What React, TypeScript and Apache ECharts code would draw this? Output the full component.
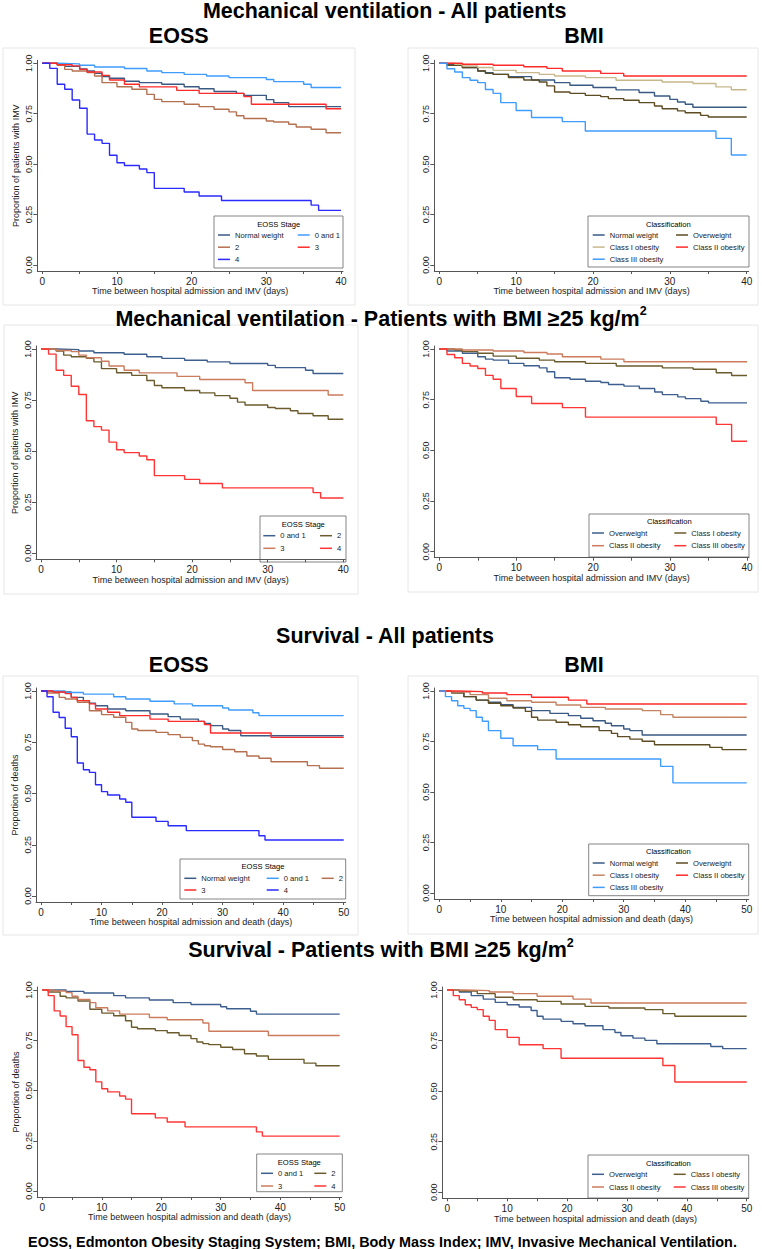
import { useEffect, useRef } from "react";
import * as echarts from "echarts";

const FONT = "'Liberation Sans', Arial, Helvetica, sans-serif";

// ---------- axis ticks ----------
const imvDayLabels = [0, 10, 20, 30, 40];
const imvDayTicks = [0, 5, 10, 15, 20, 25, 30, 35, 40];
const survDayLabels = [0, 10, 20, 30, 40, 50];
const survDayTicks = [0, 5, 10, 15, 20, 25, 30, 35, 40, 45, 50];
const proportionTicks = [0, 0.25, 0.5, 0.75, 1];

// ---------- IMV by EOSS stage: [day, proportion] ----------
const imvNormalWeight = [[0,1],[2,0.993],[3,0.985],[5,0.972],[6,0.962],[7,0.95],[8,0.934],[9,0.926],[11,0.911],[13,0.904],[16,0.896],[19,0.884],[21,0.874],[23,0.86],[26,0.851],[27,0.841],[30,0.82],[31,0.805],[33,0.785],[40,0.785]];
const imvStage01 = [[0,1],[2,0.997],[5,0.99],[7,0.982],[11,0.974],[14,0.962],[16,0.954],[19,0.945],[22,0.937],[25,0.929],[30,0.92],[31,0.909],[35,0.896],[36,0.88],[40,0.88]];
const imvStage2 = [[0,1],[2,0.99],[3,0.97],[4,0.962],[6,0.954],[7,0.937],[8,0.904],[10,0.884],[12,0.871],[14,0.846],[15,0.821],[16,0.81],[19,0.797],[21,0.785],[23,0.772],[25,0.759],[26,0.74],[27,0.726],[30,0.714],[31,0.709],[33,0.698],[34,0.684],[36,0.673],[38,0.656],[40,0.656]];
const imvStage3 = [[0,1],[2,0.993],[4,0.987],[5,0.97],[6,0.957],[8,0.94],[9,0.917],[11,0.896],[13,0.883],[18,0.866],[21,0.851],[27,0.835],[28,0.797],[38,0.775],[40,0.775]];
const imvStage4 = [[0,1],[1,0.975],[2,0.896],[3,0.871],[4,0.818],[5,0.777],[6,0.649],[7,0.62],[8,0.603],[9,0.544],[10,0.507],[11,0.493],[13,0.476],[14,0.458],[15,0.38],[19,0.362],[21,0.342],[24,0.32],[36,0.297],[37,0.271],[40,0.271]];

// ---------- IMV by BMI class ----------
const imvBmiNormal = [[0,1],[1,0.995],[3,0.979],[5,0.962],[6,0.954],[7,0.945],[9,0.934],[12,0.917],[15,0.904],[17,0.891],[20,0.88],[23,0.868],[26,0.855],[28,0.838],[30,0.821],[31,0.808],[32,0.797],[33,0.782],[40,0.782]];
const imvOverweight = [[0,1],[1,0.99],[3,0.979],[5,0.962],[6,0.95],[7,0.945],[9,0.929],[11,0.917],[13,0.907],[14,0.888],[15,0.858],[17,0.851],[19,0.841],[21,0.835],[22,0.825],[24,0.817],[26,0.805],[28,0.788],[29,0.775],[31,0.764],[32,0.755],[34,0.742],[35,0.734],[40,0.734]];
const imvObesity1 = [[0,1],[2,0.995],[3,0.987],[5,0.979],[7,0.965],[10,0.954],[13,0.945],[15,0.937],[19,0.929],[23,0.916],[29,0.907],[33,0.9],[36,0.883],[38,0.869],[40,0.869]];
const imvObesity2 = [[0,1],[3,0.995],[7,0.99],[11,0.983],[14,0.975],[16,0.962],[21,0.95],[24,0.937],[40,0.937]];
const imvObesity3 = [[0,1],[1,0.973],[2,0.957],[3,0.929],[4,0.916],[5,0.904],[6,0.87],[7,0.851],[8,0.805],[10,0.766],[12,0.731],[16,0.711],[19,0.664],[36,0.628],[38,0.545],[40,0.545]];

// ---------- Survival by EOSS stage ----------
const survNormalWeight = [[0,1],[2,0.995],[5,0.969],[7,0.953],[8,0.941],[9,0.928],[11,0.912],[14,0.904],[18,0.888],[21,0.875],[23,0.863],[26,0.852],[27,0.842],[28,0.831],[30,0.815],[31,0.807],[33,0.782],[50,0.782]];
const survStage01 = [[0,1],[4,0.993],[7,0.985],[12,0.972],[14,0.961],[18,0.95],[22,0.937],[25,0.928],[30,0.917],[31,0.907],[35,0.894],[36,0.88],[50,0.88]];
const survStage2 = [[0,1],[1,0.99],[3,0.969],[4,0.961],[6,0.945],[8,0.904],[10,0.885],[12,0.872],[14,0.847],[15,0.815],[16,0.807],[19,0.798],[21,0.787],[23,0.774],[25,0.758],[26,0.741],[27,0.733],[28,0.728],[30,0.715],[32,0.704],[34,0.683],[36,0.672],[38,0.655],[44,0.636],[46,0.623],[50,0.623]];
const survStage3 = [[0,1],[2,0.995],[4,0.987],[5,0.969],[6,0.953],[8,0.937],[9,0.912],[11,0.896],[13,0.88],[18,0.863],[21,0.852],[27,0.836],[28,0.795],[38,0.774],[50,0.774]];
const survStage4 = [[0,1],[1,0.972],[2,0.896],[3,0.871],[4,0.818],[5,0.777],[6,0.649],[7,0.616],[8,0.603],[9,0.543],[10,0.509],[11,0.493],[13,0.473],[14,0.457],[15,0.384],[19,0.364],[21,0.343],[24,0.319],[36,0.294],[37,0.273],[50,0.273]];

// ---------- Survival by BMI class ----------
const survBmiNormal = [[0,1],[2,0.993],[4,0.972],[6,0.955],[8,0.944],[10,0.932],[12,0.919],[15,0.903],[18,0.889],[21,0.878],[23,0.865],[25,0.853],[27,0.84],[28,0.828],[30,0.812],[31,0.804],[33,0.782],[50,0.782]];
const survOverweight = [[0,1],[2,0.99],[4,0.972],[6,0.955],[8,0.939],[10,0.927],[12,0.916],[14,0.899],[15,0.87],[16,0.856],[19,0.845],[21,0.833],[23,0.823],[26,0.804],[28,0.79],[29,0.774],[31,0.762],[33,0.751],[35,0.734],[44,0.721],[46,0.71],[50,0.71]];
const survObesity1 = [[0,1],[2,0.995],[5,0.982],[8,0.964],[11,0.952],[15,0.944],[19,0.931],[23,0.919],[27,0.911],[33,0.903],[36,0.883],[38,0.87],[50,0.87]];
const survObesity2 = [[0,1],[3,0.997],[7,0.99],[11,0.982],[15,0.969],[21,0.955],[24,0.936],[50,0.936]];
const survObesity3 = [[0,1],[1,0.972],[2,0.952],[3,0.927],[4,0.914],[5,0.903],[6,0.87],[7,0.85],[8,0.804],[10,0.766],[12,0.729],[16,0.71],[19,0.663],[36,0.627],[38,0.545],[50,0.545]];

// ---------- colours ----------
const NAVY = "#3a5a84";
const SKY = "#3f9cff";
const BROWN = "#b5704f";
const RED = "#ff2a2a";
const BLUE = "#2a2aff";
const DARKOLIVE = "#5e4c22";
const TAN = "#c7b88c";
const CLAY = "#c48463";
const BLUE2 = "#3c5f8e";
const OLIVE2 = "#6c5b2d";
const SALMON2 = "#cc7c5c";
const RED2 = "#ff3535";

const IMV_X = "Time between hospital admission and IMV (days)";
const DEATH_X = "Time between hospital admission and death (days)";
const IMV_Y = "Proportion of patients with IMV";
const DEATH_Y = "Proportion of deaths";

type Curve = { name: string; data: number[][]; color: string };
type Panel = {
  geo: { x0: number; x1: number; y1: number; y0: number };
  maxDay: number;
  xName: string;
  yName: string;
  labels: number[];
  ticks: number[];
  curves: Curve[];
  frame: number[] | null;
  legend: { box: number[]; title: string; tx: number; ty: number; cols: { left: number; names: string[] }[]; row0: number; rowH: number };
};

const panels: Panel[] = [
  {
    geo: { x0: 42.3, x1: 341.0, y1: 63.3, y0: 265.0 }, maxDay: 40, xName: IMV_X, yName: IMV_Y,
    labels: imvDayLabels, ticks: imvDayTicks, frame: [3, 48, 352, 257],
    curves: [
      { name: "Normal weight", data: imvNormalWeight, color: NAVY },
      { name: "0 and 1", data: imvStage01, color: SKY },
      { name: "2", data: imvStage2, color: BROWN },
      { name: "3", data: imvStage3, color: RED },
      { name: "4", data: imvStage4, color: BLUE },
    ],
    legend: { box: [214, 216, 129, 52], title: "EOSS Stage", tx: 278.7, ty: 224.3, row0: 235, rowH: 12.2,
      cols: [{ left: 218, names: ["Normal weight", "2", "4"] }, { left: 297.7, names: ["0 and 1", "3"] }] },
  },
  {
    geo: { x0: 439.3, x1: 746.7, y1: 63.3, y0: 265.0 }, maxDay: 40, xName: IMV_X, yName: "",
    labels: imvDayLabels, ticks: imvDayTicks, frame: [408, 48, 350, 257],
    curves: [
      { name: "Normal weight", data: imvBmiNormal, color: NAVY },
      { name: "Overweight", data: imvOverweight, color: DARKOLIVE },
      { name: "Class I obesity", data: imvObesity1, color: TAN },
      { name: "Class II obesity", data: imvObesity2, color: RED },
      { name: "Class III obesity", data: imvObesity3, color: SKY },
    ],
    legend: { box: [588, 216, 161, 51], title: "Classification", tx: 668.3, ty: 224, row0: 235, rowH: 12.1,
      cols: [{ left: 592.7, names: ["Normal weight", "Class I obesity", "Class III obesity"] }, { left: 676, names: ["Overweight", "Class II obesity"] }] },
  },
  {
    geo: { x0: 41.0, x1: 343.3, y1: 349.0, y0: 553.3 }, maxDay: 40, xName: IMV_X, yName: IMV_Y,
    labels: imvDayLabels, ticks: imvDayTicks, frame: [4, 325, 354, 269],
    curves: [
      { name: "0 and 1", data: imvStage01, color: BLUE2 },
      { name: "2", data: imvStage2, color: OLIVE2 },
      { name: "3", data: imvStage3, color: SALMON2 },
      { name: "4", data: imvStage4, color: RED2 },
    ],
    legend: { box: [260, 516, 86, 46], title: "EOSS Stage", tx: 303.3, ty: 524.3, row0: 535.7, rowH: 12.6,
      cols: [{ left: 263.3, names: ["0 and 1", "3"] }, { left: 320, names: ["2", "4"] }] },
  },
  {
    geo: { x0: 439.3, x1: 747.0, y1: 349.0, y0: 551.7 }, maxDay: 40, xName: IMV_X, yName: "",
    labels: imvDayLabels, ticks: imvDayTicks, frame: [408, 325, 350, 267],
    curves: [
      { name: "Overweight", data: imvOverweight, color: BLUE2 },
      { name: "Class I obesity", data: imvObesity1, color: OLIVE2 },
      { name: "Class II obesity", data: imvObesity2, color: SALMON2 },
      { name: "Class III obesity", data: imvObesity3, color: RED2 },
    ],
    legend: { box: [589, 514, 160, 43], title: "Classification", tx: 669.3, ty: 521.7, row0: 533, rowH: 12.7,
      cols: [{ left: 592, names: ["Overweight", "Class II obesity"] }, { left: 674.3, names: ["Class I obesity", "Class III obesity"] }] },
  },
  {
    geo: { x0: 41.0, x1: 343.7, y1: 691.0, y0: 896.0 }, maxDay: 50, xName: DEATH_X, yName: DEATH_Y,
    labels: survDayLabels, ticks: survDayTicks, frame: [3, 676, 355, 259],
    curves: [
      { name: "Normal weight", data: survNormalWeight, color: NAVY },
      { name: "0 and 1", data: survStage01, color: SKY },
      { name: "2", data: survStage2, color: BROWN },
      { name: "3", data: survStage3, color: RED },
      { name: "4", data: survStage4, color: BLUE },
    ],
    legend: { box: [180, 859, 165.7, 40], title: "EOSS Stage", tx: 263, ty: 866.7, row0: 878.3, rowH: 11.7,
      cols: [{ left: 184.3, names: ["Normal weight", "3"] }, { left: 266.7, names: ["0 and 1", "4"] }, { left: 321.7, names: ["2"] }] },
  },
  {
    geo: { x0: 439.3, x1: 746.7, y1: 691.0, y0: 893.0 }, maxDay: 50, xName: DEATH_X, yName: "",
    labels: survDayLabels, ticks: survDayTicks, frame: [408, 676, 350, 258],
    curves: [
      { name: "Normal weight", data: survBmiNormal, color: NAVY },
      { name: "Overweight", data: survOverweight, color: DARKOLIVE },
      { name: "Class I obesity", data: survObesity1, color: CLAY },
      { name: "Class II obesity", data: survObesity2, color: RED },
      { name: "Class III obesity", data: survObesity3, color: SKY },
    ],
    legend: { box: [588.7, 844, 160, 51.7], title: "Classification", tx: 668.3, ty: 851.7, row0: 863, rowH: 12.2,
      cols: [{ left: 592.7, names: ["Normal weight", "Class I obesity", "Class III obesity"] }, { left: 676, names: ["Overweight", "Class II obesity"] }] },
  },
  {
    geo: { x0: 42.3, x1: 339.7, y1: 990.0, y0: 1191.0 }, maxDay: 50, xName: DEATH_X, yName: DEATH_Y,
    labels: survDayLabels, ticks: survDayTicks, frame: null,
    curves: [
      { name: "0 and 1", data: survStage01, color: BLUE2 },
      { name: "2", data: survStage2, color: OLIVE2 },
      { name: "3", data: survStage3, color: SALMON2 },
      { name: "4", data: survStage4, color: RED2 },
    ],
    legend: { box: [256.7, 1154, 85.6, 37.7], title: "EOSS Stage", tx: 299.3, ty: 1162.7, row0: 1173.3, rowH: 12.7,
      cols: [{ left: 261, names: ["0 and 1", "3"] }, { left: 314.3, names: ["2", "4"] }] },
  },
  {
    geo: { x0: 447.3, x1: 746.7, y1: 990.0, y0: 1192.3 }, maxDay: 50, xName: DEATH_X, yName: "",
    labels: survDayLabels, ticks: survDayTicks, frame: null,
    curves: [
      { name: "Overweight", data: survOverweight, color: BLUE2 },
      { name: "Class I obesity", data: survObesity1, color: OLIVE2 },
      { name: "Class II obesity", data: survObesity2, color: SALMON2 },
      { name: "Class III obesity", data: survObesity3, color: RED2 },
    ],
    legend: { box: [588, 1155, 160.7, 43], title: "Classification", tx: 668.3, ty: 1163.3, row0: 1174.3, rowH: 12.7,
      cols: [{ left: 592, names: ["Overweight", "Class II obesity"] }, { left: 673.7, names: ["Class I obesity", "Class III obesity"] }] },
  },
];

const PAD_L = 5, PAD_R = 2, PAD_B = 6, PAD_T = 3;

function plainText(text: string, x: number, y: number, size: number, bold = true) {
  return {
    type: "text", x, y, silent: true,
    style: {
      text, fill: "#000", fontSize: size, fontWeight: bold ? "bold" : "normal", fontFamily: FONT,
      align: "center", verticalAlign: "middle", textAlign: "center", textVerticalAlign: "middle",
    },
  };
}

function supText(main: string, x: number, y: number) {
  return {
    type: "text", x, y, silent: true,
    style: {
      text: `{a|${main}}{s|2}`,
      align: "center", verticalAlign: "middle", textAlign: "center", textVerticalAlign: "middle",
      rich: {
        a: { fontSize: 21.5, fontWeight: "bold", fontFamily: FONT, lineHeight: 28, fill: "#000" },
        s: { fontSize: 12.5, fontWeight: "bold", fontFamily: FONT, lineHeight: 13, verticalAlign: "top", fill: "#000" },
      },
    },
  };
}

function buildOption() {
  const grid: any[] = [], xAxis: any[] = [], yAxis: any[] = [], series: any[] = [], legend: any[] = [], elements: any[] = [];

  panels.forEach((p, i) => {
    const g = p.geo;
    const pxDay = (g.x1 - g.x0) / p.maxDay;
    const pxUnit = g.y0 - g.y1;
    grid.push({
      left: g.x0 - PAD_L, top: g.y1 - PAD_T,
      width: g.x1 + PAD_R - (g.x0 - PAD_L), height: g.y0 + PAD_B - (g.y1 - PAD_T),
      containLabel: false, outerBoundsMode: "none", show: false,
    });
    xAxis.push({
      type: "value", gridIndex: i, min: -PAD_L / pxDay, max: p.maxDay + PAD_R / pxDay,
      axisLine: { show: true, onZero: false, lineStyle: { color: "#555", width: 1 } },
      axisTick: { show: true, length: 3, customValues: p.ticks, lineStyle: { color: "#555" } },
      axisLabel: { show: true, customValues: p.labels, margin: 5, fontSize: 10, color: "#222", fontFamily: FONT },
      splitLine: { show: false }, minorTick: { show: false },
      name: p.xName, nameLocation: "middle", nameGap: 14.5,
      nameTextStyle: { fontSize: 9, color: "#222", fontFamily: FONT },
    });
    yAxis.push({
      type: "value", gridIndex: i, min: -PAD_B / pxUnit, max: 1 + PAD_T / pxUnit,
      axisLine: { show: true, onZero: false, lineStyle: { color: "#555", width: 1 } },
      axisTick: { show: true, length: 4, customValues: proportionTicks, lineStyle: { color: "#555" } },
      axisLabel: {
        show: true, customValues: proportionTicks, rotate: 90, margin: 4, fontSize: 9, color: "#222", fontFamily: FONT,
        formatter: (v: number) => v.toFixed(2),
      },
      splitLine: { show: false },
      name: p.yName, nameLocation: "middle", nameGap: 17,
      nameTextStyle: { fontSize: 9, color: "#222", fontFamily: FONT },
    });
    p.curves.forEach((c) => {
      series.push({
        type: "line", name: c.name, xAxisIndex: i, yAxisIndex: i, data: c.data, step: "end",
        symbol: "none", showSymbol: false, silent: true, color: c.color,
        lineStyle: { color: c.color, width: 1.4 }, emphasis: { disabled: true },
      });
    });
    const L = p.legend;
    L.cols.forEach((col) => {
      legend.push({
        show: true, orient: "vertical", left: col.left, top: L.row0 - L.rowH / 2,
        padding: 0, itemGap: 0, itemWidth: 12, itemHeight: 1.5, icon: "rect", selectedMode: false,
        textStyle: { fontSize: 7.6, lineHeight: L.rowH, color: "#222", fontFamily: FONT },
        data: col.names.map((n) => {
          const c = p.curves.find((cc) => cc.name === n)!;
          return { name: n, icon: "rect", itemStyle: { color: c.color, borderColor: c.color, borderWidth: 0 } };
        }),
      });
    });
    if (p.frame) {
      elements.push({
        type: "rect", silent: true, z: -1,
        shape: { x: p.frame[0], y: p.frame[1], width: p.frame[2], height: p.frame[3] },
        style: { fill: "none", stroke: "#e6e6e6", lineWidth: 1 },
      });
    }
    elements.push({
      type: "rect", silent: true,
      shape: { x: L.box[0], y: L.box[1], width: L.box[2], height: L.box[3] },
      style: { fill: "#fff", stroke: "#666", lineWidth: 0.8 },
    });
    elements.push(plainText(L.title, L.tx, L.ty, 7.6, false));
  });

  elements.push(plainText("Mechanical ventilation - All patients", 384.7, 11, 21.5));
  elements.push(plainText("EOSS", 178.7, 36, 21.5));
  elements.push(plainText("BMI", 584, 36, 21.5));
  elements.push(supText("Mechanical ventilation - Patients with BMI ≥25 kg/m", 381, 318.5));
  elements.push(plainText("Survival - All patients", 385, 636, 21.5));
  elements.push(plainText("EOSS", 178.7, 665, 21.5));
  elements.push(plainText("BMI", 584, 665, 21.5));
  elements.push(supText("Survival - Patients with BMI ≥25 kg/m", 381, 950));
  elements.push(plainText("EOSS, Edmonton Obesity Staging System; BMI, Body Mass Index; IMV, Invasive Mechanical Ventilation.", 382.5, 1241.5, 14.4));

  return {
    animation: false,
    backgroundColor: "#fff",
    grid, xAxis, yAxis, series, legend,
    graphic: { elements },
  };
}

export default function App() {
  const ref = useRef<HTMLDivElement>(null);
  useEffect(() => {
    if (!ref.current) return;
    const chart = echarts.init(ref.current, null, { renderer: "svg" });
    chart.setOption(buildOption() as any);
    return () => chart.dispose();
  }, []);
  return (
    <div
      ref={ref}
      style={{ position: "absolute", left: 0, top: 0, width: 762, height: 1249, background: "#fff" }}
    />
  );
}
